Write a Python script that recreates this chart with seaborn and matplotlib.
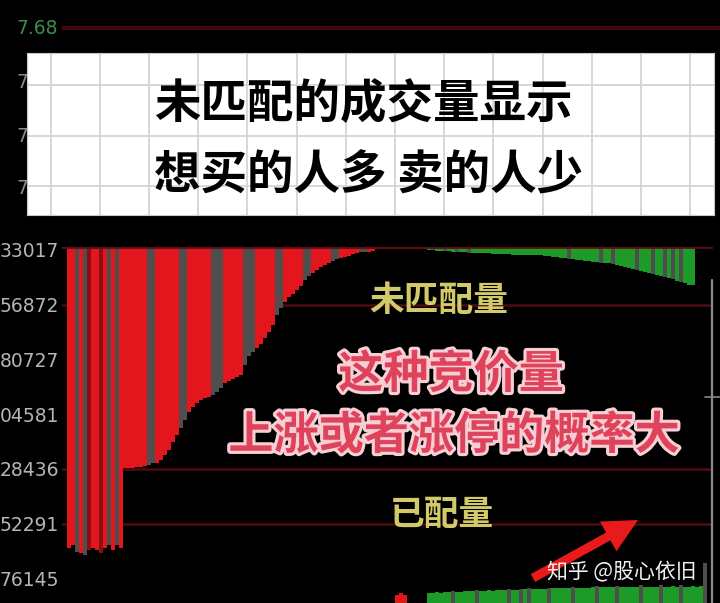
import numpy as np
import pandas as pd
import matplotlib
matplotlib.use("Agg")
import matplotlib.pyplot as plt
import matplotlib.patheffects as pe
import seaborn as sns

# ---------------- data ----------------
price_label = "7.68"
price_side_labels = ["7.62", "7.56", "7.50"]

vol_ticks = [33017, 56872, 80727, 104581, 128436, 152291, 176145]
vol_tick_labels = ["33017", "56872", "80727", "04581", "28436", "52291", "76145"]
grid_levels = [56872, 128436, 152291]
vol_base = 31709          # level the auction bars hang from
vol_floor = 186960        # lowest level shown

# hanging auction-volume bars: R red, D dark red, G grey, E green
bar_colors = ("RRGRGDRRDRGRGR" "RRRRRR" "GG" "RRRRRR" "GG" "RRRRRR" "GGG"
              "RRRRR" "GGG" "RRRRR" "GG" "RRRRR" "GG" "RRRRR" "GG" "RRRRR"
              "GG" "RR" "DDDDDDDDDDDDD" "EGEEGEEGEEGE"
              "EEEEEEEEEEEEEEEEEEEEEEE" "G" "EEEEEEE" "G" "EE" "G" "EEEEE"
              "G" "EEE" "G" "EE" "G" "E" "G" "E" "G" "EEE")
bar_depths = [162975, 161667, 164719, 165155, 166028, 163847, 162975, 163847,
              165155, 162975, 161667, 163847, 161667, 162975,
              128087, 128087, 128087, 127651, 127651, 127215,
              126779, 125906,
              125906, 124598, 122418, 120237, 116748, 113696,
              110643, 107154,
              103665, 101485, 99741, 98432, 97560, 97124,
              96252, 94943, 93199,
              91018, 90146, 89274, 88401, 87529,
              83168, 79244, 77499,
              75755, 74010, 71394, 68777, 65724,
              61363, 58310,
              55694, 53513, 52205, 50461, 48716,
              46100, 44356,
              43047, 41739, 40431, 39559, 38686,
              37814, 36942,
              36506, 36070, 35634, 34761, 34325,
              33889, 33889,
              33889, 33453,
              32581, 32581, 32581, 32581, 32581, 32581, 32581, 32581, 32581,
              32581, 32581, 32581, 32581,
              33017, 33017, 33453, 33453, 33453, 33453, 33889, 33889, 33889,
              33889, 34325, 34325,
              34325, 34325, 34325, 34325, 34761, 34761, 34761, 34761, 34761,
              35198, 35198, 35198, 35198, 35198, 35198, 35198, 35198, 35634,
              35634, 36070, 36070, 36506, 36506, 36942, 36942, 37378, 37378,
              37814, 37814, 38250, 38250, 38686, 38686, 38686, 39122, 39559,
              39995, 40431, 40867, 41303, 41739, 42175, 42611, 43047, 43483,
              43920, 44356, 44792, 45228, 45664, 46536, 46972, 47408, 48281,
              48281]

# lower panel (continuous trading volume), starts at slot 82
low_start = 82
low_colors = ("RRR" "-----"
              "EEEEEE" "G" "EEEEE" "G" "EEEEEEE" "G" "EE" "G" "E" "G" "EEEE"
              "G" "EEEEE" "G" "EEEEE" "G" "EEEE" "G" "EEEEE" "G" "EEEE" "G"
              "EEEE" "G" "EEEEE" "G")
low_values = [8, 10, 8, 0, 0, 0, 0, 0,
              10, 10, 11, 10, 11, 11, 12, 11, 11, 12, 12, 12, 13, 12, 12, 13,
              12, 13, 13, 13, 14, 13, 13, 14, 14, 15, 14, 14, 14, 14, 15, 15,
              15, 15, 15, 15, 16, 15, 15, 15, 15, 16, 17, 16, 16, 16, 16, 17,
              16, 16, 16, 16, 16, 18, 16, 16, 16, 16, 18, 16, 16, 17, 16, 18,
              16, 16, 17, 16, 17, 40]

title_lines = ["未匹配的成交量显示", "想买的人多 卖的人少"]
pink_lines = ["这种竞价量", "上涨或者涨停的概率大"]
label_unmatched = "未匹配量"
label_matched = "已配量"
watermark = "知乎 @股心依旧"

palette = {"R": "#e3161e", "D": "#8c0e15", "G": "#4e4e4e", "E": "#1e9a28", "-": "none"}

assert len(bar_colors) == len(bar_depths)
assert len(low_colors) == len(low_values)

# ---------------- style ----------------
sns.set_theme(style="dark", rc={"axes.facecolor": "black",
                                "figure.facecolor": "black",
                                "axes.edgecolor": "black"})
plt.rcParams['font.family'] = ['Noto Sans CJK SC', 'DejaVu Sans']

W, H = 720, 603
fig = plt.figure(figsize=(7.2, 6.03), dpi=100)
fig.patch.set_facecolor("black")


def rect(x0, y0, x1, y1):
    return [x0 / W, 1 - y1 / H, (x1 - x0) / W, (y1 - y0) / H]


def fx(x):
    return x / W


def fy(y):
    return 1 - y / H


# background layer (pixel coordinates)
ax_bg = fig.add_axes([0, 0, 1, 1], zorder=0)
ax_bg.set_xlim(0, W)
ax_bg.set_ylim(H, 0)
ax_bg.axis("off")
ax_bg.plot([62, 720], [28, 28], color="#3e0a0c", lw=3.2, solid_capstyle="butt")
ax_bg.text(17, 28, price_label, color="#3f8a4a", fontsize=13.5,
           family="DejaVu Sans", ha="left", va="center")
for yy, lab in zip([83, 136, 188], price_side_labels):
    ax_bg.text(17, yy, lab, color="#8a8a8a", fontsize=13.5,
               family="DejaVu Sans", ha="left", va="center")

# ---------------- main auction volume axes ----------------
ax = fig.add_axes(rect(62, 247, 713, 603), zorder=2)
ax.set_facecolor("none")
x_idx = np.arange(len(bar_depths))
df = pd.DataFrame({"slot": x_idx, "depth": bar_depths, "kind": list(bar_colors)})
for lv in grid_levels:
    ax.axhline(lv, color="#4f0b12", lw=1.8, zorder=0)
ax.bar(df["slot"], df["depth"] - vol_base, bottom=vol_base, width=1.0,
       color=[palette[k] for k in df["kind"]], linewidth=0, zorder=2)
ax.axhline(vol_base, color="#5e0e14", lw=2.0, zorder=3)
ax.set_xlim(-1.75, 161)
ax.set_ylim(vol_floor, vol_base)
ax.set_xticks([])
ax.set_yticks(vol_ticks)
ax.set_yticklabels(vol_tick_labels, family="DejaVu Sans", fontsize=13.5,
                   color="#b5b5b5")
ax.tick_params(axis="y", length=0, pad=2)
ax.grid(False)
for s in ax.spines.values():
    s.set_visible(False)

# ---------------- lower panel ----------------
ax2 = fig.add_axes(rect(62, 560, 713, 603), zorder=3)
ax2.set_facecolor("none")
lx = np.arange(low_start, low_start + len(low_values))
ax2.bar(lx, low_values, width=1.0,
        color=[palette[k] for k in low_colors], linewidth=0)
ax2.set_xlim(-1.75, 161)
ax2.set_ylim(0, 43)
ax2.axis("off")

# ---------------- white caption box ----------------
axb = fig.add_axes(rect(27, 53, 714, 215), zorder=5)
axb.set_facecolor("white")
axb.set_xlim(0, 687)
axb.set_ylim(162, 0)
axb.set_xticks(np.arange(23.5, 687, 49.2))
axb.set_yticks([32, 83, 133])
axb.set_xticklabels([])
axb.set_yticklabels([])
axb.tick_params(length=0)
axb.grid(True, color="#d4d4d4", lw=1.3)
for s in axb.spines.values():
    s.set_color("#c8c8c8")
    s.set_linewidth(0.8)

for yy, line in zip([104, 176], title_lines):
    fig.text(fx(154), fy(yy), line, color="black", fontsize=33.5,
             fontweight="heavy", ha="left", va="center", zorder=20)

# ---------------- overlay annotations ----------------
ax_ov = fig.add_axes([0, 0, 1, 1], zorder=10)
ax_ov.set_xlim(0, W)
ax_ov.set_ylim(H, 0)
ax_ov.axis("off")
ax_ov.plot([712, 712], [280, 603], color="#8a8a8a", lw=1.6)
ax_ov.plot([705, 720], [397, 397], color="#8a8a8a", lw=1.2)
ax_ov.arrow(533, 578, 105, -58, width=9, head_width=34, head_length=34,
            length_includes_head=True, color="#e81a1a", lw=0)

fig.text(fx(439), fy(300), label_unmatched, color="#d2ca68", fontsize=25,
         fontweight="bold", ha="center", va="center", zorder=20)
fig.text(fx(442), fy(515), label_matched, color="#d2ca68", fontsize=25,
         fontweight="bold", ha="center", va="center", zorder=20)

stroke = [pe.withStroke(linewidth=4.5, foreground="#f6cfd4")]
for (xx, yy), line in zip([(451, 375), (454, 436)], pink_lines):
    fig.text(fx(xx), fy(yy), line, color="#df435c", fontsize=32.5,
             fontweight="bold", ha="center", va="center", zorder=21,
             path_effects=stroke)

fig.text(fx(622), fy(572), watermark, color="#f2f2f2", fontsize=15,
         ha="center", va="center", zorder=22)

fig.savefig("out.png", dpi=100, facecolor="black")
